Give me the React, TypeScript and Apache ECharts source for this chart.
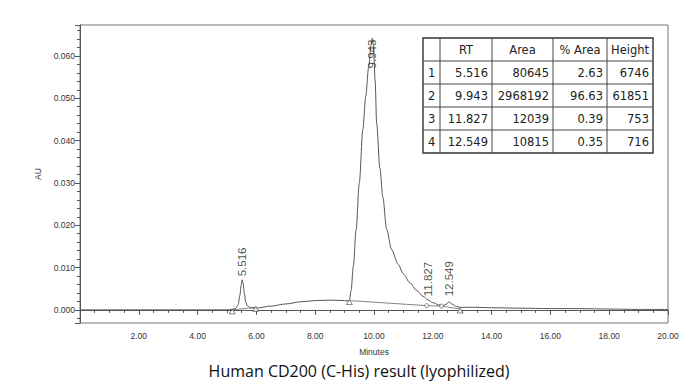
import React, { useEffect, useRef } from "react";
import * as echarts from "echarts";

// Chromatogram trace (minutes, AU)
const signalTime = [
  0.0, 1.0, 2.0, 3.0, 4.0, 5.0, 5.18, 5.3, 5.38, 5.44, 5.48, 5.516, 5.55, 5.59, 5.64, 5.7, 5.8, 5.98,
  6.5, 7.0, 7.5, 8.0, 8.5, 9.0, 9.16, 9.22, 9.3, 9.39, 9.5, 9.62, 9.72, 9.82, 9.9, 9.943, 9.98, 10.04,
  10.09, 10.2, 10.3, 10.43, 10.6, 10.82, 11.0, 11.22, 11.45, 11.67, 11.83, 12.0, 12.2, 12.35, 12.45,
  12.55, 12.65, 12.8, 12.93, 13.5, 14.0, 15.0, 16.0, 17.0, 18.0, 19.0, 20.0,
];
const signalAU = [
  0.0, 0.0, 0.0, 0.0, 0.0, 0.0, 0.0001, 0.0004, 0.0012, 0.0035, 0.0058, 0.0071, 0.0062, 0.0038, 0.0018,
  0.0009, 0.0005, 0.0004, 0.0009, 0.0014, 0.0019, 0.0022, 0.0023, 0.0022, 0.0021, 0.0045, 0.0105,
  0.0189, 0.03, 0.0426, 0.0505, 0.0575, 0.0625, 0.0642, 0.0625, 0.054, 0.044, 0.0335, 0.0267, 0.019,
  0.0142, 0.0108, 0.0085, 0.0064, 0.0046, 0.0032, 0.0024, 0.0017, 0.0012, 0.001, 0.0013, 0.0019,
  0.0014, 0.0008, 0.0006, 0.0006, 0.0005, 0.0004, 0.0003, 0.0003, 0.0002, 0.0001, 0.0001,
];

// Integration baselines
const baseline1Time = [5.18, 5.98];
const baseline1AU = [0.0, 0.0006];
const baseline2Time = [9.16, 11.79, 12.3, 12.93];
const baseline2AU = [0.0022, 0.001, 0.0009, 0.0002];

// Peak start / end markers (triangles) and valley markers (circles)
const startEndTime = [5.18, 5.98, 9.16, 12.93];
const startEndAU = [0.0, 0.0006, 0.0022, 0.0002];
const valleyTime = [11.79, 12.3];
const valleyAU = [0.001, 0.0009];

// Peak table
const peakNo = ["1", "2", "3", "4"];
const peakRT = [5.516, 9.943, 11.827, 12.549];
const peakApexAU = [0.0071, 0.0642, 0.0024, 0.0019];
const peakArea = [80645, 2968192, 12039, 10815];
const peakPctArea = [2.63, 96.63, 0.39, 0.35];
const peakHeight = [6746, 61851, 753, 716];
const tableHeaders = ["", "RT", "Area", "% Area", "Height"];

const xTickInterval = 2;

const titleText = "Human CD200 (C-His) result (lyophilized)";

function buildTable() {
  const colX = [423, 440, 492, 553, 607, 653];
  const rowY = [38, 61, 84, 107, 130, 153];
  const children: any[] = [];
  children.push({
    type: "rect",
    shape: { x: colX[0], y: rowY[0], width: colX[5] - colX[0], height: rowY[5] - rowY[0] },
    style: { fill: "#fff", stroke: "#333", lineWidth: 1.4 },
    z: 10,
  });
  for (let i = 1; i < colX.length - 1; i++) {
    children.push({
      type: "line",
      shape: { x1: colX[i], y1: rowY[0], x2: colX[i], y2: rowY[5] },
      style: { stroke: "#444", lineWidth: 1 },
      z: 11,
    });
  }
  for (let j = 1; j < rowY.length - 1; j++) {
    children.push({
      type: "line",
      shape: { x1: colX[0], y1: rowY[j], x2: colX[5], y2: rowY[j] },
      style: { stroke: "#444", lineWidth: 1 },
      z: 11,
    });
  }
  const font = { fontFamily: "DejaVu Sans", fontSize: 11.5, fill: "#222" };
  tableHeaders.forEach((h, c) => {
    if (!h) return;
    children.push({
      type: "text",
      x: (colX[c] + colX[c + 1]) / 2,
      y: (rowY[0] + rowY[1]) / 2,
      style: { ...font, text: h, align: "center", verticalAlign: "middle" },
      z: 12,
    });
  });
  const rows = peakNo.map((n, i) => [
    n,
    peakRT[i].toFixed(3),
    String(peakArea[i]),
    peakPctArea[i].toFixed(2),
    String(peakHeight[i]),
  ]);
  rows.forEach((r, i) => {
    const cy = (rowY[i + 1] + rowY[i + 2]) / 2;
    r.forEach((v, c) => {
      if (c === 0) {
        children.push({
          type: "text",
          x: colX[0] + 5,
          y: cy,
          style: { ...font, text: v, align: "left", verticalAlign: "middle" },
          z: 12,
        });
      } else {
        children.push({
          type: "text",
          x: colX[c + 1] - 4,
          y: cy,
          style: { ...font, text: v, align: "right", verticalAlign: "middle" },
          z: 12,
        });
      }
    });
  });
  return { type: "group", children };
}

export default function App() {
  const ref = useRef<HTMLDivElement>(null);
  useEffect(() => {
    document.body.style.margin = "0";
    const chart = echarts.init(ref.current!, undefined, { renderer: "svg" });
    const axisFont = { fontFamily: "Liberation Sans", fontSize: 8.5, color: "#333" };
    const option: any = {
      animation: false,
      backgroundColor: "#fff",
      grid: {
        left: 80,
        top: 25,
        width: 588,
        height: 298,
        show: true,
        borderColor: "#777",
        borderWidth: 1,
        containLabel: false,
      },
      xAxis: {
        type: "value",
        min: 0,
        max: 20,
        interval: xTickInterval,
        name: "Minutes",
        nameLocation: "middle",
        nameGap: 24,
        nameTextStyle: axisFont,
        axisLine: { show: true, lineStyle: { color: "#555", width: 1 } },
        axisTick: { show: true, length: 5, lineStyle: { color: "#555" } },
        minorTick: { show: true, splitNumber: 4, length: 3, lineStyle: { color: "#555" } },
        splitLine: { show: false },
        axisLabel: {
          ...axisFont,
          margin: 8,
          formatter: (v: number) => (v === 0 ? "" : v.toFixed(2)),
        },
      },
      yAxis: {
        type: "value",
        min: -0.0031,
        max: 0.0673,
        name: "AU",
        nameLocation: "middle",
        nameGap: 37,
        nameRotate: 90,
        nameTextStyle: axisFont,
        axisLine: { show: true, lineStyle: { color: "#555", width: 1 } },
        axisTick: { show: true, length: 5, lineStyle: { color: "#555" } },
        minorTick: { show: true, splitNumber: 5, length: 3, lineStyle: { color: "#555" } },
        splitLine: { show: false },
        axisLabel: {
          ...axisFont,
          margin: 5,
          showMinLabel: false,
          showMaxLabel: false,
          formatter: (v: number) =>
            Math.abs(v * 100 - Math.round(v * 100)) < 1e-6 ? v.toFixed(3) : "",
        },
      },
      series: [
        {
          type: "line",
          data: signalTime.map((t, i) => [t, signalAU[i]]),
          showSymbol: false,
          smooth: 0.3,
          smoothMonotone: "x",
          lineStyle: { color: "#555", width: 1 },
          z: 3,
        },
        {
          type: "line",
          data: baseline1Time.map((t, i) => [t, baseline1AU[i]]),
          showSymbol: false,
          lineStyle: { color: "#666", width: 0.8 },
          z: 2,
        },
        {
          type: "line",
          data: baseline2Time.map((t, i) => [t, baseline2AU[i]]),
          showSymbol: false,
          lineStyle: { color: "#666", width: 0.8 },
          z: 2,
        },
        {
          type: "scatter",
          data: startEndTime.map((t, i) => [t, startEndAU[i]]),
          symbol: "triangle",
          symbolSize: [6, 5],
          symbolOffset: [0, 1.5],
          itemStyle: { color: "#fff", borderColor: "#444", borderWidth: 0.8 },
          z: 4,
        },
        {
          type: "scatter",
          data: valleyTime.map((t, i) => [t, valleyAU[i]]),
          symbol: "circle",
          symbolSize: 4,
          itemStyle: { color: "#fff", borderColor: "#444", borderWidth: 0.8 },
          z: 4,
        },
        {
          type: "scatter",
          data: peakRT.map((t, i) => {
            const item: any = { value: [t, peakApexAU[i]] };
            if (i === 1) {
              item.label = { position: "bottom", distance: 1, align: "right" };
            }
            if (i === 3) {
              item.label = { distance: 5 };
            }
            return item;
          }),
          symbolSize: 1,
          itemStyle: { color: "rgba(0,0,0,0)" },
          label: {
            show: true,
            position: "top",
            distance: 3,
            rotate: 90,
            align: "left",
            verticalAlign: "middle",
            fontFamily: "Liberation Sans",
            fontSize: 11.5,
            color: "#222",
            formatter: (p: any) => p.value[0].toFixed(3),
          },
          z: 5,
        },
      ],
      graphic: [
        buildTable(),
        {
          type: "text",
          x: 359,
          y: 371,
          style: {
            text: titleText,
            fontFamily: "Open Sans",
            fontSize: 16,
            fill: "#111",
            align: "center",
            verticalAlign: "middle",
          },
        },
      ],
    };
    chart.setOption(option);
    return () => chart.dispose();
  }, []);
  return (
    <div
      ref={ref}
      style={{ position: "fixed", left: 0, top: 0, width: 691, height: 390, background: "#fff" }}
    />
  );
}
